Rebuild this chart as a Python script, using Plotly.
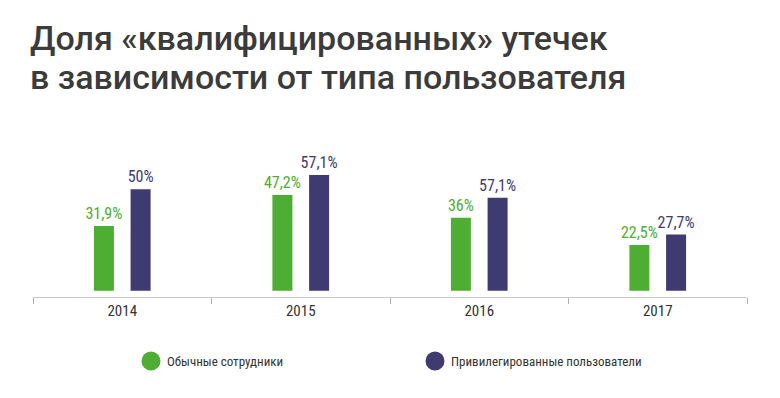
import plotly.graph_objects as go

years = ["2014", "2015", "2016", "2017"]
series_names = ["Обычные сотрудники", "Привилегированные пользователи"]
# bar heights as drawn in the picture (percent)
regular_values = [31.9, 47.2, 36.0, 22.5]
privileged_values = [50.0, 57.1, 45.8, 27.7]
# value labels as printed
regular_labels = ["31,9%", "47,2%", "36%", "22,5%"]
privileged_labels = ["50%", "57,1%", "57,1%", "27,7%"]

GREEN = "#4ead33"
PURPLE = "#3f3a6f"
OFF = 8  # page body margin offset
W, H = 780 - OFF, 398 - OFF
ML, MR, MT, MB = 33 - OFF, 33, 169 - OFF, 101
PW = W - ML - MR
PH = H - MT - MB
NARROW = "Liberation Sans Narrow, Roboto Condensed, Roboto"


def px_x(x):
    return (x - OFF - ML) / PW


def px_y(y):
    return (H - MB - (y - OFF)) / PH


fig = go.Figure()
fig.add_trace(go.Bar(
    x=years, y=regular_values, name=series_names[0],
    marker=dict(color=GREEN, line=dict(width=0)),
    text=regular_labels, textposition="outside", constraintext="none",
    textfont=dict(family=NARROW, size=16, color=GREEN),
    cliponaxis=False, showlegend=False,
))
fig.add_trace(go.Bar(
    x=years, y=privileged_values, name=series_names[1],
    marker=dict(color=PURPLE, line=dict(width=0)),
    text=privileged_labels, textposition="outside", constraintext="none",
    textfont=dict(family=NARROW, size=16, color=PURPLE),
    cliponaxis=False, showlegend=False,
))

TITLE_FONT = dict(family="Roboto", size=34, color="#3b3b3b", weight=500)
annotations = [
    dict(text="Доля «квалифицированных» утечек", xref="paper", yref="paper",
         x=px_x(28), y=px_y(38), xanchor="left", yanchor="middle", showarrow=False,
         font=TITLE_FONT),
    dict(text="в зависимости от типа пользователя", xref="paper", yref="paper",
         x=px_x(28), y=px_y(77), xanchor="left", yanchor="middle", showarrow=False,
         font=TITLE_FONT),
]
shapes = []
legend_pos = [(151, 361), (435, 361)]
for name, color, (cx, cy) in zip(series_names, [GREEN, PURPLE], legend_pos):
    shapes.append(dict(type="circle", xref="paper", yref="paper",
                       xsizemode="pixel", ysizemode="pixel",
                       xanchor=px_x(cx), yanchor=px_y(cy),
                       x0=-9.5, x1=9.5, y0=-9.5, y1=9.5,
                       fillcolor=color, line=dict(width=0)))
    annotations.append(dict(text=name, xref="paper", yref="paper",
                            x=px_x(cx + 14), y=px_y(cy), xanchor="left", yanchor="middle",
                            showarrow=False,
                            font=dict(family=NARROW, size=13, color="#333333")))

fig.update_layout(
    width=W, height=H,
    margin=dict(l=ML, r=MR, t=MT, b=MB, pad=0),
    paper_bgcolor="white", plot_bgcolor="white",
    barmode="group", bargap=0.589, bargroupgap=0.455,
    xaxis=dict(type="category", range=[-0.5, 3.5], showline=True, linecolor="#c8c8c8",
               linewidth=1, ticks="outside", tickson="boundaries", ticklen=6,
               tickcolor="#b0b0b0", tickwidth=1, showgrid=False, zeroline=False,
               tickfont=dict(family=NARROW, size=15, color="#333333")),
    yaxis=dict(range=[-3.1, 60], visible=False, showgrid=False, zeroline=False),
    annotations=annotations, shapes=shapes,
    showlegend=False,
)

fig.write_html("out.html")
